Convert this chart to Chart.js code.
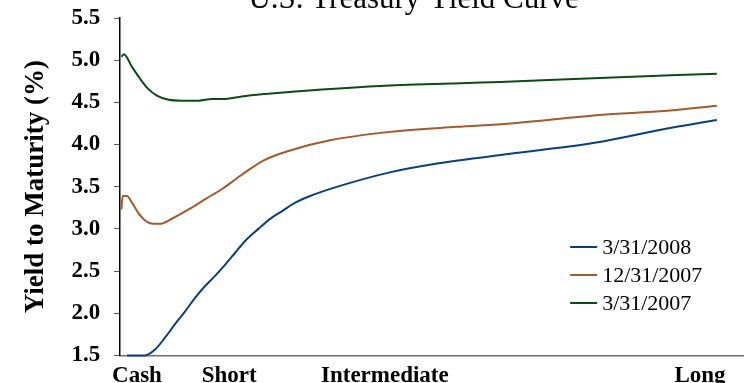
<!DOCTYPE html>
<html>
<head>
<meta charset="utf-8">
<script src="https://cdn.jsdelivr.net/npm/chart.js@4.4.1/dist/chart.umd.min.js"></script>
<style>
  html, body { margin: 0; padding: 0; background: #fff; overflow: hidden; }
  #wrap { position: absolute; left: 0; top: -24px; width: 745px; height: 421px; }
</style>
</head>
<body>
<div id="wrap"><canvas id="yieldChart"></canvas></div>
<script>
const chartTitle = 'U.S. Treasury Yield Curve';
const yAxisTitle = 'Yield to Maturity (%)';

// position along the maturity axis: 0 = cash end, 100 = far right of the axis
const xTickPos = [2.7, 17.5, 42.5, 93.1];
const xTickLabels = ['Cash', 'Short', 'Intermediate', 'Long'];

const seriesLabels = ['3/31/2008', '12/31/2007', '3/31/2007'];
const seriesColors = ['#0b3f7a', '#a25a2e', '#0f4a14'];

const mat2008 = [1.1, 4.0, 5.6, 7.2, 8.8, 10.4, 12.0, 13.6, 15.2, 16.9, 18.5, 20.1, 22.2, 24.3, 26.0, 28.1, 30.5, 35.3, 43.3, 51.4, 62.6, 77.0, 87.2, 95.8];
const yld2008 = [1.50, 1.50, 1.57, 1.71, 1.87, 2.02, 2.18, 2.32, 2.44, 2.58, 2.72, 2.86, 3.00, 3.13, 3.21, 3.31, 3.39, 3.51, 3.67, 3.78, 3.89, 4.03, 4.18, 4.29];

const matDec2007 = [0.2, 0.4, 1.1, 1.9, 2.9, 4.0, 5.3, 6.4, 8.3, 11.0, 13.6, 16.3, 19.3, 23.0, 27.3, 33.7, 43.3, 54.0, 62.6, 77.0, 87.8, 95.8];
const yldDec2007 = [3.23, 3.39, 3.39, 3.31, 3.19, 3.10, 3.06, 3.06, 3.12, 3.23, 3.35, 3.47, 3.63, 3.81, 3.93, 4.05, 4.15, 4.21, 4.25, 4.35, 4.40, 4.46];

const matMar2007 = [0.2, 0.6, 1.9, 3.2, 4.5, 5.9, 7.8, 9.9, 12.6, 14.7, 16.9, 19.5, 23.3, 28.1, 43.3, 61.0, 77.0, 95.8];
const yldMar2007 = [5.04, 5.07, 4.92, 4.78, 4.66, 4.58, 4.53, 4.52, 4.52, 4.54, 4.54, 4.57, 4.60, 4.63, 4.70, 4.74, 4.79, 4.84];

const serif = '"Liberation Serif", "DejaVu Serif", serif';

const toPoints = (xs, ys) => xs.map((x, i) => ({ x: x, y: ys[i] }));

const allSeries = [
  toPoints(mat2008, yld2008),
  toPoints(matDec2007, yldDec2007),
  toPoints(matMar2007, yldMar2007)
];

// title sits mostly above the visible area, like the source image
const titlePlugin = {
  id: 'cutTitle',
  afterDraw(chart) {
    const ctx = chart.ctx;
    const area = chart.chartArea;
    ctx.save();
    ctx.font = '31px ' + serif;
    ctx.fillStyle = '#000';
    ctx.textAlign = 'center';
    ctx.textBaseline = 'alphabetic';
    ctx.fillText(chartTitle, (area.left + area.right) / 2 - 18, area.top - 10);
    ctx.restore();
  }
};

const legendPlugin = {
  id: 'innerLegend',
  afterDraw(chart) {
    const ctx = chart.ctx;
    const area = chart.chartArea;
    const lx = area.left + 450;
    let ly = area.top + 229;
    ctx.save();
    ctx.font = '22px ' + serif;
    ctx.textBaseline = 'middle';
    ctx.textAlign = 'left';
    chart.data.datasets.forEach(ds => {
      ctx.strokeStyle = ds.borderColor;
      ctx.lineWidth = 2;
      ctx.beginPath();
      ctx.moveTo(lx, ly);
      ctx.lineTo(lx + 27, ly);
      ctx.stroke();
      ctx.fillStyle = '#000';
      ctx.fillText(ds.label, lx + 32, ly + 1);
      ly += 28;
    });
    ctx.restore();
  }
};

const ctx = document.getElementById('yieldChart');

new Chart(ctx, {
  type: 'line',
  data: {
    datasets: allSeries.map((pts, i) => ({
      label: seriesLabels[i],
      data: pts,
      borderColor: seriesColors[i],
      backgroundColor: seriesColors[i],
      borderWidth: 2,
      pointRadius: 0,
      cubicInterpolationMode: 'monotone',
      clip: 4
    }))
  },
  options: {
    responsive: true,
    maintainAspectRatio: false,
    animation: false,
    layout: { padding: { top: 42, left: 10, right: 2, bottom: 0 } },
    plugins: {
      legend: { display: false },
      tooltip: { enabled: false }
    },
    scales: {
      x: {
        type: 'linear',
        min: 0,
        max: 100,
        afterBuildTicks: axis => {
          axis.ticks = xTickPos.map(v => ({ value: v }));
        },
        ticks: {
          autoSkip: false,
          maxRotation: 0,
          padding: 7,
          color: '#000',
          font: { family: serif, size: 23, weight: 'bold' },
          callback: v => xTickLabels[xTickPos.indexOf(v)]
        },
        grid: { display: true, drawOnChartArea: false, drawTicks: false },
        border: { display: true, color: '#707070', width: 1.5 }
      },
      y: {
        min: 1.5,
        max: 5.5,
        ticks: {
          stepSize: 0.5,
          padding: 14,
          color: '#000',
          font: { family: serif, size: 23, weight: 'bold' },
          callback: v => v.toFixed(1)
        },
        grid: { drawOnChartArea: false, drawTicks: true, tickLength: 6, color: '#555' },
        border: { display: true, color: '#000', width: 1.5 },
        title: {
          display: true,
          text: yAxisTitle,
          color: '#000',
          font: { family: serif, size: 27, weight: 'bold' },
          padding: { top: 10, bottom: 5 }
        }
      }
    }
  },
  plugins: [titlePlugin, legendPlugin]
});
</script>
</body>
</html>
